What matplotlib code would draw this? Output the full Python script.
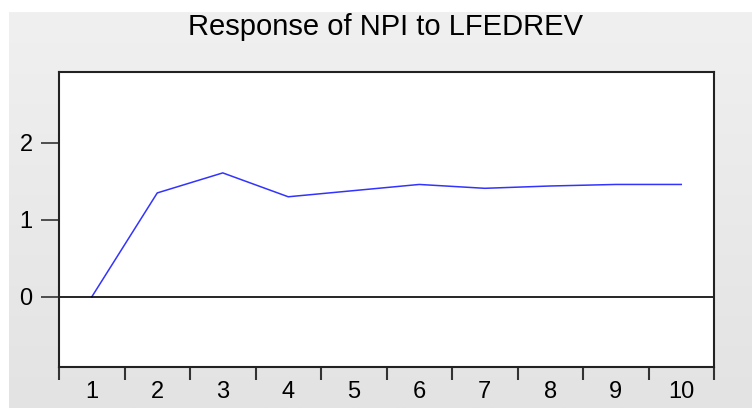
import numpy as np
import matplotlib
matplotlib.use('Agg')
import matplotlib.pyplot as plt

# impulse response of NPI to LFEDREV, periods 1..10
periods = [1, 2, 3, 4, 5, 6, 7, 8, 9, 10]
response = [0.0, 1.35, 1.61, 1.30, 1.38, 1.46, 1.41, 1.44, 1.46, 1.46]
yticks = [0, 1, 2]

plt.rcParams['font.family'] = ['Liberation Sans', 'DejaVu Sans']

W, H = 752, 408
fig = plt.figure(figsize=(W / 100, H / 100), dpi=100)
fig.patch.set_facecolor('white')

# grey gradient panel behind everything (EViews look)
bg = fig.add_axes([9 / W, 0, 1 - 9 / W, 1 - 12 / H], zorder=-1)
grad = np.linspace(0, 1, 256).reshape(-1, 1)
bg.imshow(grad, aspect='auto', cmap=matplotlib.colors.LinearSegmentedColormap.from_list(
    'g', ['#f0f0f0', '#e3e3e3']), extent=[0, 1, 0, 1], origin='upper')
bg.axis('off')

left, right, top, bottom = 59, 714, 72, 367
ax = fig.add_axes([left / W, 1 - bottom / H, (right - left) / W, (bottom - top) / H])
ax.set_facecolor('white')

ax.plot(periods, response, color='#3333ff', lw=1.1)
ax.axhline(0, color='black', lw=1.2)

ax.set_xlim(0.5, 10.5)
ax.set_ylim(-0.91, 2.92)

# EViews puts tick marks between periods and labels at the periods
ax.set_xticks(np.arange(0.5, 11, 1))
ax.set_xticklabels([])
ax.set_xticks(periods, minor=True)
ax.set_xticklabels([str(p) for p in periods], minor=True, fontsize=17)
ax.tick_params(axis='x', which='major', direction='out', length=9, width=1.5, color='#333333')
ax.tick_params(axis='x', which='minor', length=0, pad=10)

ax.set_yticks(yticks)
ax.set_yticklabels([str(v) for v in yticks], fontsize=17)
ax.tick_params(axis='y', direction='out', length=13, width=1.2, color='#333333', pad=6)

for s in ax.spines.values():
    s.set_linewidth(1.5)
    s.set_color('#222222')

fig.text(386 / W, 1 - 27 / H, 'Response of NPI to LFEDREV', ha='center', va='center', fontsize=21)

fig.savefig('out.png', dpi=100)
